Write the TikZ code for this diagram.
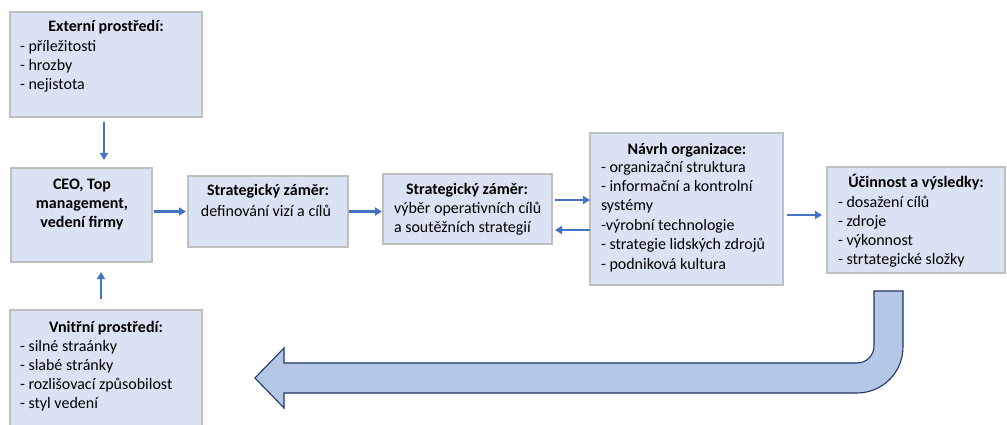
\documentclass[tikz,border=0pt]{standalone}
\usepackage{fontspec}
\setmainfont{Carlito}
\usetikzlibrary{calc,arrows.meta}
\definecolor{boxfill}{HTML}{DAE3F3}
\definecolor{boxline}{HTML}{BFBFBF}
\definecolor{arrblue}{HTML}{4472C4}
\definecolor{bigfill}{HTML}{B4C7E7}
\definecolor{bigline}{HTML}{203864}
\begin{document}
\begin{tikzpicture}[x=1pt,y=-1pt,
 box/.style={draw=boxline, fill=boxfill, line width=1.3pt, inner sep=0pt, outer sep=0pt},
 txt/.style={font=\fontsize{16}{19.4}\selectfont, inner sep=0pt, outer sep=0pt},
 ttl/.style={txt, font=\fontsize{16}{19}\selectfont\bfseries, anchor=base, align=center},
 lst/.style={txt, anchor=base west, align=left},
 arr/.style={draw=arrblue, line width=2.2pt, -{Triangle[length=7pt,width=8pt]}},
 bigarrow/.style={fill=bigfill, draw=bigline, line width=1.1pt, line join=miter}]
\clip (0,0) rectangle (1007,425);
\fill[white] (0,0) rectangle (1007,425);

% boxes
\node[box, minimum width=192, minimum height=105] (ext) at (106,64.5) {};
\node[box, minimum width=141, minimum height=94] (ceo) at (81.5,215) {};
\node[box, minimum width=160, minimum height=71] (sz1) at (268,211.5) {};
\node[box, minimum width=169, minimum height=70] (sz2) at (467.5,209) {};
\node[box, minimum width=193, minimum height=152] (navrh) at (686.5,209) {};
\node[box, minimum width=178, minimum height=106] (ucin) at (916,220) {};
\node[box, minimum width=192, minimum height=130] (vnitr) at (106,375) {};

% texts (base anchor of a multi-line node = baseline of its last line)
\node[ttl] (extT) at (106,32) {Externí prostředí:};
\node[lst] (extL) at (20,90) {- příležitosti\\- hrozby\\- nejistota};
\node[ttl] (ceoT) at (82,227) {CEO, Top\\management,\\vedení firmy};
\node[ttl] (sz1T) at (268,196) {Strategický záměr:};
\node[txt, anchor=base] (sz1L) at (266,216) {definování vizí a cílů};
\node[ttl] (sz2T) at (467,194) {Strategický záměr:};
\node[lst, font=\fontsize{16}{18.5}\selectfont] (sz2L) at (394,232) {výběr operativních cílů\\a soutěžních strategií};
\node[ttl] (navrhT) at (687,154) {Návrh organizace:};
\node[lst] (navrhL) at (601,269) {- organizační struktura\\- informační a kontrolní\\systémy\\-výrobní technologie\\- strategie lidských zdrojů\\- podniková kultura};
\node[ttl] (ucinT) at (916,187) {Účinnost a výsledky:};
\node[lst, font=\fontsize{16}{19}\selectfont] (ucinL) at (838,264) {- dosažení cílů\\- zdroje\\- výkonnost\\- strtategické složky};
\node[ttl] (vnitrT) at (106,332) {Vnitřní prostředí:};
\node[lst, font=\fontsize{16}{19}\selectfont] (vnitrL) at (20,408) {- silné straánky\\- slabé stránky\\- rozlišovací způsobilost\\- styl vedení};

% connectors
\draw[arr] ($(ext.south)+(-2,5)$) -- ($(ext.south |- ceo.north)+(-2,-8)$);
\draw[arr] ($(vnitr.north)+(-5,-11)$) -- ($(vnitr.north |- ceo.south)+(-5,10)$);
\draw[arr] ($(ceo.east |- sz1.west)+(2,0)$) -- ($(sz1.west)+(-2,0)$);
\draw[arr] ($(sz1.east)+(1,0)$) -- ($(sz1.east -| sz2.west)+(-1,0)$);
\draw[arr] ($(sz2.east)+(3,-9)$) -- ($(sz2.east -| navrh.west)+(0,-9)$);
\draw[arr] ($(navrh.west |- sz2.east)+(0,21)$) -- ($(sz2.east)+(3,21)$);
\draw[arr] ($(navrh.east |- ucin.west)+(4,-5)$) -- ($(ucin.west)+(-5,-5)$);

% big return arrow
\draw[bigarrow] (255,378) -- (284,348) -- (284,363) -- (857,363)
  .. controls (866.4,363) and (874,355.4) .. (874,346) -- (874,291) -- (903,291) -- (903,347)
  .. controls (903,372.4) and (882.4,393) .. (857,393) -- (284,393) -- (284,408) -- cycle;
\end{tikzpicture}
\end{document}
